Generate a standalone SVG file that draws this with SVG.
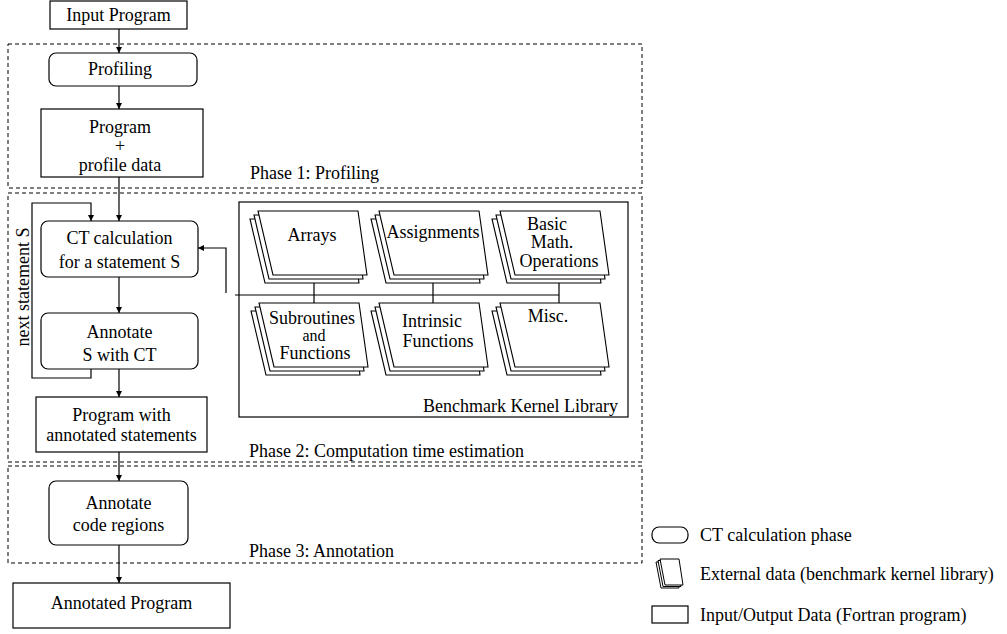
<svg xmlns="http://www.w3.org/2000/svg" xmlns:xlink="http://www.w3.org/1999/xlink" width="1007" height="634" viewBox="0 0 1007 634">
<style>
text{font-family:'Liberation Serif','DejaVu Serif','Noto Serif',serif;font-size:18px;fill:#000}
.c{text-anchor:middle}
.box{fill:#fff;stroke:#000;stroke-width:1.2}
.phase{fill:none;stroke:#000;stroke-width:1;stroke-dasharray:4 3}
.ln{fill:none;stroke:#000;stroke-width:1.2}
.pg{fill:#fff;stroke:#000;stroke-width:1.1}
.sm{font-size:16px}
</style>
<defs>
<marker id="ah" viewBox="0 0 10 10" refX="10" refY="5" markerWidth="9" markerHeight="6" orient="auto" markerUnits="userSpaceOnUse"><path d="M0,0 L10,5 L0,10 z" fill="#000"/></marker>
<polygon id="page" points="0,0 100,0 109,64 15,64"/>
<g id="stack">
<use xlink:href="#page" class="pg" x="-8" y="8"/>
<use xlink:href="#page" class="pg" x="-4" y="4"/>
<use xlink:href="#page" class="pg"/>
</g>
<polygon id="mpage" points="0,0 19,0 23,26 5,26"/>
</defs>

<g id="phases">
<rect id="phase1" class="phase" x="8" y="44" width="634" height="144"/>
<rect id="phase2" class="phase" x="8" y="193" width="634" height="269"/>
<rect id="phase3" class="phase" x="8" y="466" width="634" height="97"/>
<text x="250" y="179">Phase 1: Profiling</text>
<text x="249" y="457">Phase 2: Computation time estimation</text>
<text x="249" y="557">Phase 3: Annotation</text>
</g>

<g id="connectors">
<path class="ln" d="M119,29 V53" marker-end="url(#ah)"/>
<path class="ln" d="M119,86 V109" marker-end="url(#ah)"/>
<path class="ln" d="M119,177 V221" marker-end="url(#ah)"/>
<path class="ln" d="M119,277 V313" marker-end="url(#ah)"/>
<path class="ln" d="M119,369 V397" marker-end="url(#ah)"/>
<path class="ln" d="M119,452 V481" marker-end="url(#ah)"/>
<path class="ln" d="M119,545 V583" marker-end="url(#ah)"/>
<path class="ln" d="M91,369 V378 H32 V203 H91 V221" marker-end="url(#ah)"/>
<path class="ln" d="M226,293 V248 H198" marker-end="url(#ah)"/>
<path class="ln" d="M235,295 H559"/>
<path class="ln" d="M314,283 V303 M433,283 V303 M559,283 V303"/>
</g>
<text x="29" y="287" class="c" transform="rotate(-90 29 287)">next statement S</text>

<g id="input-program">
<rect class="box" x="50" y="1" width="137" height="28"/>
<text x="118.5" y="21" class="c">Input Program</text>
</g>
<g id="profiling">
<rect class="box" x="49" y="53" width="148" height="33" rx="7"/>
<text x="120" y="75" class="c">Profiling</text>
</g>
<g id="program-profile">
<rect class="box" x="41" y="109" width="162" height="68"/>
<text x="120" y="133" class="c">Program</text>
<text x="120" y="152" class="c">+</text>
<text x="120" y="171" class="c">profile data</text>
</g>
<g id="ct-calc">
<rect class="box" x="41" y="221" width="157" height="56" rx="7"/>
<text x="119.5" y="244" class="c">CT calculation</text>
<text x="119.5" y="268" class="c">for a statement S</text>
</g>
<g id="annotate-s">
<rect class="box" x="41" y="313" width="157" height="56" rx="7"/>
<text x="119.5" y="338" class="c">Annotate</text>
<text x="119.5" y="361" class="c">S with CT</text>
</g>
<g id="program-annotated">
<rect class="box" x="36" y="397" width="171" height="55"/>
<text x="121.5" y="421" class="c">Program with</text>
<text x="121.5" y="441" class="c">annotated statements</text>
</g>
<g id="annotate-regions">
<rect class="box" x="49" y="481" width="139" height="64" rx="7"/>
<text x="118.5" y="509" class="c">Annotate</text>
<text x="118.5" y="531" class="c">code regions</text>
</g>
<g id="annotated-program">
<rect class="box" x="13" y="583" width="217" height="45"/>
<text x="121.5" y="609" class="c">Annotated Program</text>
</g>

<g id="library">
<rect x="239" y="202" width="389" height="215" style="fill:none;stroke:#000;stroke-width:1.2"/>
<text x="618" y="412" text-anchor="end">Benchmark Kernel Library</text>
<g id="arrays"><use xlink:href="#stack" x="258" y="211"/><text x="312" y="241" class="c">Arrays</text></g>
<g id="assignments"><use xlink:href="#stack" x="379" y="211"/><text x="433" y="238" class="c">Assignments</text></g>
<g id="basic-math"><use xlink:href="#stack" x="500" y="211"/><text x="547" y="230" class="c">Basic</text><text x="552" y="248" class="c">Math.</text><text x="559" y="267" class="c">Operations</text></g>
<g id="subroutines"><use xlink:href="#stack" x="259" y="303"/><text x="312" y="324" class="c">Subroutines</text><text x="314" y="341" class="c sm">and</text><text x="315" y="359" class="c">Functions</text></g>
<g id="intrinsic"><use xlink:href="#stack" x="379" y="303"/><text x="432" y="327" class="c">Intrinsic</text><text x="438" y="347" class="c">Functions</text></g>
<g id="misc"><use xlink:href="#stack" x="500" y="303"/><text x="548" y="322" class="c">Misc.</text></g>
</g>

<g id="legend">
<rect class="box" x="652" y="527" width="36" height="16" rx="7"/>
<text x="700" y="541">CT calculation phase</text>
<g>
<use xlink:href="#mpage" class="pg" style="stroke-width:1" x="656" y="562"/>
<use xlink:href="#mpage" class="pg" style="stroke-width:1" x="658" y="560.5"/>
<use xlink:href="#mpage" class="pg" style="stroke-width:1" x="660" y="559"/>
</g>
<text x="700" y="580">External data (benchmark kernel library)</text>
<rect class="box" x="652" y="606" width="36" height="17"/>
<text x="700" y="621">Input/Output Data (Fortran program)</text>
</g>
</svg>
